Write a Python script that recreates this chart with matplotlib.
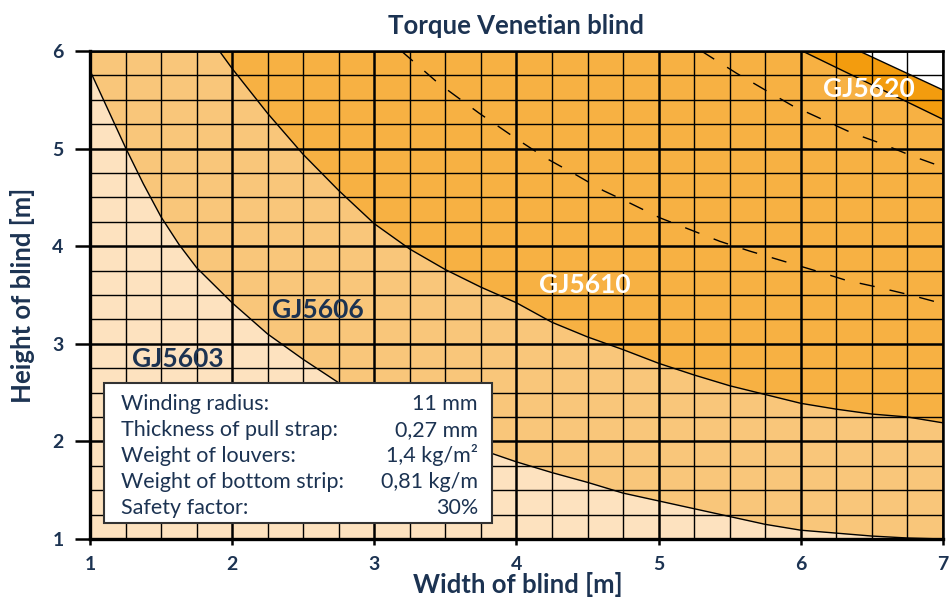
import matplotlib
matplotlib.use('Agg')
import matplotlib.pyplot as plt
from matplotlib.patches import Rectangle
import numpy as np

plt.rcParams['font.family'] = ['Lato', 'DejaVu Sans']

navy = '#1C3352'

# limit curves (width [m], height [m])
gj5603_w = [1.00, 1.25, 1.375, 1.50, 1.625, 1.75, 2.00, 2.25, 2.50, 2.75, 3.00, 3.25, 3.50, 3.82,
            4.00, 4.25, 4.50, 4.75, 5.00, 5.25, 5.50, 5.75, 6.00, 6.25, 6.50, 6.75, 7.00]
gj5603_h = [5.80, 5.01, 4.64, 4.30, 4.02, 3.78, 3.42, 3.10, 2.84, 2.60, 2.39, 2.21, 2.05, 1.88,
            1.79, 1.68, 1.58, 1.47, 1.39, 1.31, 1.23, 1.15, 1.09, 1.06, 1.03, 1.01, 1.00]

gj5606_w = [1.91, 2.00, 2.25, 2.50, 2.75, 3.00, 3.25, 3.50, 3.75, 4.00, 4.25, 4.50, 4.75, 5.00,
            5.25, 5.50, 5.75, 6.00, 6.25, 6.50, 6.75, 7.00]
gj5606_h = [6.00, 5.82, 5.36, 4.94, 4.57, 4.23, 3.97, 3.76, 3.58, 3.42, 3.22, 3.07, 2.94, 2.80,
            2.68, 2.57, 2.48, 2.39, 2.33, 2.28, 2.25, 2.19]

gj5610_w = [6.01, 7.00]
gj5610_h = [6.00, 5.30]

gj5620_w = [6.41, 7.00]
gj5620_h = [6.00, 5.60]

dash1_w = [3.19, 3.45, 3.74, 4.01, 4.21, 4.42, 4.61, 4.80, 5.01, 5.22, 5.43, 5.64, 5.87, 6.10,
           6.32, 6.54, 6.77, 7.00]
dash1_h = [6.00, 5.67, 5.36, 5.09, 4.90, 4.73, 4.57, 4.44, 4.29, 4.17, 4.05, 3.95, 3.85, 3.75,
           3.65, 3.58, 3.50, 3.41]

dash2_w = [5.30, 5.55, 5.75, 5.94, 6.15, 6.36, 6.57, 6.79, 7.00]
dash2_h = [6.00, 5.77, 5.60, 5.44, 5.30, 5.16, 5.05, 4.92, 4.81]

x_ticks = [1, 2, 3, 4, 5, 6, 7]
y_ticks = [1, 2, 3, 4, 5, 6]

info_labels = ['Winding radius:', 'Thickness of pull strap:', 'Weight of louvers:',
               'Weight of bottom strip:', 'Safety factor:']
info_values = ['11 mm', '0,27 mm', '1,4 kg/m²', '0,81 kg/m', '30%']

fig = plt.figure(figsize=(9.52, 5.99), dpi=100)
ax = fig.add_axes([0.0945, 0.1002, 0.8960, 0.8147])

ax.set_xlim(1, 7)
ax.set_ylim(1, 6)
ax.set_facecolor('#FDE2BF')

ax.fill_between(gj5603_w, gj5603_h, 6, color='#F9C67A', lw=0)
ax.fill_between(gj5606_w, gj5606_h, 6, color='#F7B143', lw=0)
ax.fill_between(gj5610_w, gj5610_h, 6, color='#F39C0E', lw=0)
ax.fill_between(gj5620_w, gj5620_h, 6, color='white', lw=0)

for w, h in [(gj5603_w, gj5603_h), (gj5606_w, gj5606_h), (gj5610_w, gj5610_h), (gj5620_w, gj5620_h)]:
    ax.plot(w, h, color='black', lw=1.0, zorder=3)
for w, h in [(dash1_w, dash1_h), (dash2_w, dash2_h)]:
    ax.plot(w, h, color='black', lw=1.0, ls=(0, (11, 11)), zorder=3)

# grid
ax.set_xticks(x_ticks)
ax.set_yticks(y_ticks)
ax.set_xticks(np.arange(1, 7.01, 0.25), minor=True)
ax.set_yticks(np.arange(1, 6.01, 0.25), minor=True)
ax.set_axisbelow(False)
ax.grid(which='major', color='black', lw=1.8)
ax.grid(which='minor', color='black', lw=1.0)
ax.tick_params(which='minor', length=0)
ax.tick_params(axis='y', which='major', length=11, width=1.8, pad=8,
               labelsize=14, labelcolor=navy)
ax.tick_params(axis='x', which='major', length=4, width=1.8, pad=8,
               labelsize=14, labelcolor=navy)
for lbl in ax.get_xticklabels() + ax.get_yticklabels():
    lbl.set_fontweight('bold')
for side in ['left', 'bottom']:
    ax.spines[side].set_linewidth(2.4)
for side in ['top', 'right']:
    ax.spines[side].set_linewidth(1.8)

ax.set_title('Torque Venetian blind', fontsize=18.5, fontweight='bold', color=navy, pad=12)
ax.set_xlabel('Width of blind [m]', fontsize=18.5, fontweight='bold', color=navy)
ax.set_ylabel('Height of blind [m]', fontsize=18.5, fontweight='bold', color=navy)
ax.xaxis.set_label_coords(0.502, -0.068)
ax.yaxis.set_label_coords(-0.064, 0.5)

# model labels
ax.text(1.615, 2.76, 'GJ5603', fontsize=19, fontweight='bold', color=navy,
        ha='center', va='baseline', zorder=6)
ax.text(2.60, 3.26, 'GJ5606', fontsize=19, fontweight='bold', color=navy,
        ha='center', va='baseline', zorder=6)
ax.text(4.48, 3.52, 'GJ5610', fontsize=19, fontweight='bold', color='white',
        ha='center', va='baseline', zorder=6)
ax.text(6.48, 5.53, 'GJ5620', fontsize=19, fontweight='bold', color='white',
        ha='center', va='baseline', zorder=6)

# parameter box
ax.add_patch(Rectangle((1.10, 1.16), 2.73, 1.44, facecolor='white', edgecolor='#333333',
                       lw=1.5, zorder=5))
for i, (lab, val) in enumerate(zip(info_labels, info_values)):
    yb = 2.322 - i * 0.2665
    ax.text(1.218, yb, lab, fontsize=15.5, color=navy, ha='left', va='baseline', zorder=6)
    ax.text(3.729, yb, val, fontsize=15.5, color=navy, ha='right', va='baseline', zorder=6)

fig.savefig('out.png', dpi=100)
